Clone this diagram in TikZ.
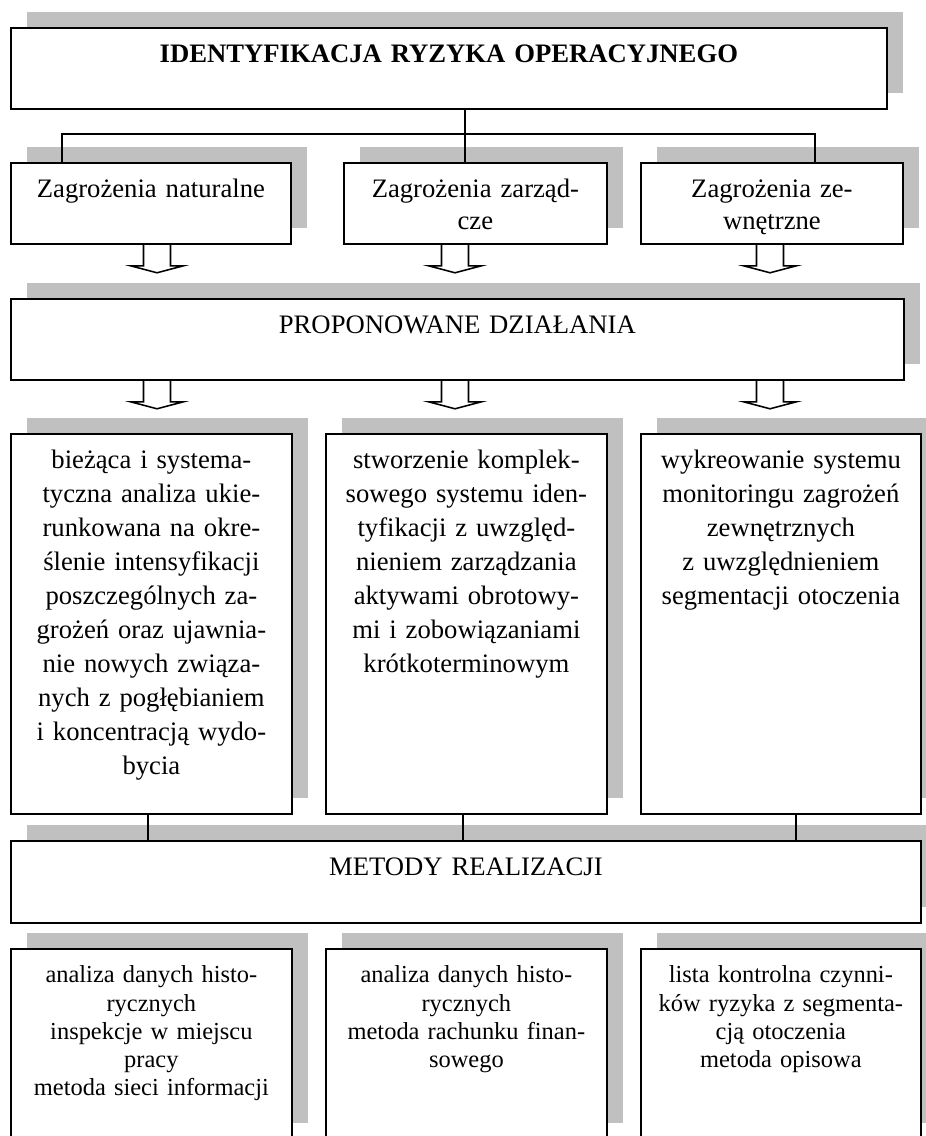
\documentclass[tikz,border=0pt]{standalone}
\usepackage{fontspec}
\setmainfont{Liberation Serif}
\usetikzlibrary{shadows}
\definecolor{shade}{RGB}{192,192,192}

\begin{document}
\fontsize{12}{14}\selectfont
\begin{tikzpicture}[x=0.45pt, y=-0.45pt,
		box/.style ={draw, line width=0.8pt, fill=white, anchor=north west,
			inner sep=0pt, align=center, text height=15.75pt,
			drop shadow={shadow xshift=7.2pt, shadow yshift=7.2pt, opacity=1, fill=shade}},
		low/.style ={text depth=20.7pt},
		tall/.style ={font=\fontsize{12}{15.3}\selectfont, text depth=155.25pt},
		small/.style ={font=\fontsize{11}{12.65}\selectfont, text height=15.3pt, text depth=70.2pt},
		link/.style ={line width=0.6pt},
		hollow/.pic ={\draw[line width=0.7pt] (-13.5,0) -- (-13.5,21) -- (-26.5,21)
			-- (0,28) -- (26.5,21) -- (13.5,21) -- (13.5,0);}]
		\useasboundingbox (0,0) rectangle (926,1136);
		\clip (0,0) rectangle (926,1136);
		% levels
		\node[box, low, text width=394.2pt, font=\bfseries] (top) at (10,27) {IDENTYFIKACJA RYZYKA OPERACYJNEGO};
		\node[box, low, text width=126pt] (z1) at (10,162) {Zagrożenia naturalne};
		\node[box, low, text width=118.35pt] (z2) at (343,162) {Zagrożenia zarząd-\\cze};
		\node[box, low, text width=117.9pt] (z3) at (640,162) {Zagrożenia ze-\\wnętrzne};
		\node[box, low, text width=401.85pt] (dz) at (10,298) {PROPONOWANE DZIAŁANIA};
		\node[box, tall, text width=126.45pt] (d1) at (10,433) {bieżąca i systema-\\tyczna analiza ukie-\\runkowana na okre-\\ślenie intensyfikacji\\poszczególnych za-\\grożeń oraz ujawnia-\\nie nowych związa-\\nych z pogłębianiem\\i koncentracją wydo-\\bycia};
		\node[box, tall, text width=126.45pt] (d2) at (325,433) {stworzenie komplek-\\sowego systemu iden-\\tyfikacji z uwzględ-\\nieniem zarządzania\\aktywami obrotowy-\\mi i zobowiązaniami\\krótkoterminowym};
		\node[box, tall, text width=126pt] (d3) at (640,433) {wykreowanie systemu\\monitoringu zagrożeń\\zewnętrznych\\z uwzględnieniem\\segmentacji otoczenia};
		\node[box, text width=409.5pt, text depth=21.15pt] (mr) at (10,840) {METODY REALIZACJI};
		\node[box, small, text width=126.45pt] (m1) at (10,948) {analiza danych histo-\\rycznych\\inspekcje w miejscu\\pracy\\metoda sieci informacji};
		\node[box, small, text width=126.45pt] (m2) at (325,948) {analiza danych histo-\\rycznych\\metoda rachunku finan-\\sowego};
		\node[box, small, text width=126pt] (m3) at (640,948) {lista kontrolna czynni-\\ków ryzyka z segmenta-\\cją otoczenia\\metoda opisowa};
		% tree under the title
		\coordinate (bus) at (465,134);
		\coordinate (l1) at (62,134);
		\coordinate (l3) at (815,134);
		\draw[link] (top.south -| bus) -- (z2.north -| bus);
		\draw[link] (z1.north -| l1) -- (l1) -- (l3) -- (z3.north -| l3);
		% hollow arrows
		\foreach \n/\x in {1/157, 2/455, 3/770} {
			\coordinate (a\n) at (\x,0);
			\pic at (z\n.south -| a\n) {hollow};
			\pic at (dz.south -| a\n) {hollow};
		}
		% links down to the methods
		\foreach \n/\x in {1/148, 2/463, 3/796} {
			\coordinate (v\n) at (\x,0);
			\draw[link] (d\n.south -| v\n) -- (mr.north -| v\n);
		}
\end{tikzpicture}
\end{document}
